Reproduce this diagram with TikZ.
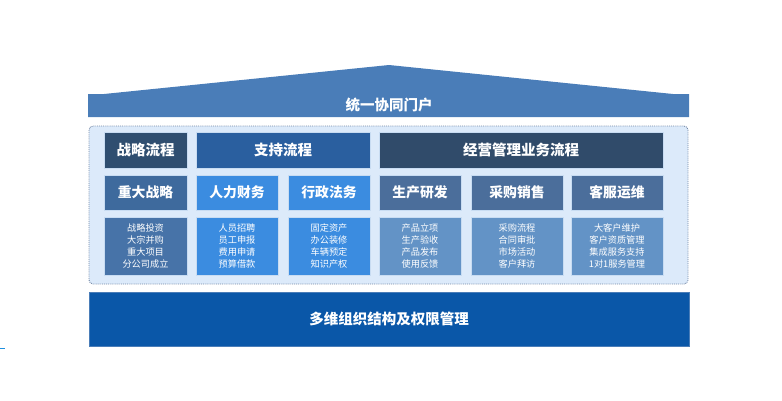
\documentclass[tikz,border=0pt]{standalone}
\usepackage{fontspec}
\setmainfont{Noto Sans CJK SC}
\definecolor{roofblue}{RGB}{74,125,184}
\definecolor{framefill}{RGB}{220,234,250}
\definecolor{frameline}{RGB}{115,135,165}
\definecolor{boxline}{RGB}{200,220,242}
\definecolor{darkslate}{RGB}{47,78,112}
\definecolor{opsslate}{RGB}{48,75,106}
\definecolor{supportblue}{RGB}{42,95,159}
\definecolor{stratmid}{RGB}{62,106,157}
\definecolor{stratlow}{RGB}{71,115,168}
\definecolor{brightblue}{RGB}{59,140,224}
\definecolor{slatemid}{RGB}{75,110,155}
\definecolor{slatelow}{RGB}{99,147,198}
\definecolor{basisblue}{RGB}{10,87,168}
\definecolor{markblue}{RGB}{30,144,224}

\tikzset{
    box/.style={anchor=north west, inner sep=0pt, outer sep=0pt, draw=boxline,
        line width=0.8pt, text=white, align=center},
    headtext/.style={text=white, font=\fontsize{14.5}{17}\selectfont\bfseries},
    subtext/.style={font=\fontsize{13.8}{16}\selectfont\bfseries},
    itemtext/.style={font=\fontsize{9.2}{11.7}\selectfont},
}

\begin{document}
\begin{tikzpicture}[x=1pt, y=-1pt]
    \useasboundingbox (0,0) rectangle (782,400);
    % Roof with the portal.
    \begin{scope}
        \fill[roofblue] (88,117) -- (88,94) -- (104,94) -- (389,65)
            -- (673,94) -- (689,94) -- (689,117) -- cycle;
        \node[headtext] (portal) at (389,105) {统一协同门户};
    \end{scope}
    % Frame round the process blocks.
    \draw[frameline, line width=0.9pt, densely dotted, fill=framefill, rounded corners=4pt]
        (89,126) rectangle (688,284);
    % First row: process groups.
    \begin{scope}
        \node[box, headtext, fill=darkslate, minimum width=83, minimum height=36]
            (strat) at (104,132) {战略流程};
        \node[box, headtext, fill=supportblue, minimum width=174, minimum height=36]
            (support) at (196,132) {支持流程};
        \node[box, headtext, fill=opsslate, minimum width=284, minimum height=36]
            (ops) at (379,132) {经营管理业务流程};
    \end{scope}
    % Second row: areas.
    \begin{scope}
        \node[box, subtext, fill=stratmid, minimum width=83, minimum height=35]
            (major) at (104,175) {重大战略};
        \node[box, subtext, fill=brightblue, minimum width=82, minimum height=35]
            (hr) at (196,175) {人力财务};
        \node[box, subtext, fill=brightblue, minimum width=82, minimum height=35]
            (admin) at (288,175) {行政法务};
        \node[box, subtext, fill=slatemid, minimum width=82, minimum height=35]
            (rnd) at (379,175) {生产研发};
        \node[box, subtext, fill=slatemid, minimum width=92, minimum height=35]
            (sales) at (471,175) {采购销售};
        \node[box, subtext, fill=slatemid, minimum width=92, minimum height=35]
            (service) at (571,175) {客服运维};
    \end{scope}
    % Third row: single processes.
    \begin{scope}
        \node[box, itemtext, fill=stratlow, minimum width=83, minimum height=58]
            (majorlist) at (104,217) {战略投资\\大宗并购\\重大项目\\分公司成立};
        \node[box, itemtext, fill=brightblue, minimum width=82, minimum height=58]
            (hrlist) at (196,217) {人员招聘\\员工申报\\费用申请\\预算借款};
        \node[box, itemtext, fill=brightblue, minimum width=82, minimum height=58]
            (adminlist) at (288,217) {固定资产\\办公装修\\车辆预定\\知识产权};
        \node[box, itemtext, fill=slatelow, minimum width=82, minimum height=58]
            (rndlist) at (379,217) {产品立项\\生产验收\\产品发布\\使用反馈};
        \node[box, itemtext, fill=slatelow, minimum width=92, minimum height=58]
            (saleslist) at (471,217) {采购流程\\合同审批\\市场活动\\客户拜访};
        \node[box, itemtext, fill=slatelow, minimum width=92, minimum height=58]
            (servicelist) at (571,217) {大客户维护\\客户资质管理\\集成服务支持\\1对1服务管理};
    \end{scope}
    % Base: organisation and rights.
    \node[box, headtext, fill=basisblue, draw=roofblue, minimum width=600, minimum height=54]
        (basis) at (89,292) {多维组织结构及权限管理};
    \draw[markblue, line width=1pt] (0,348) -- (5,348);
\end{tikzpicture}
\end{document}
